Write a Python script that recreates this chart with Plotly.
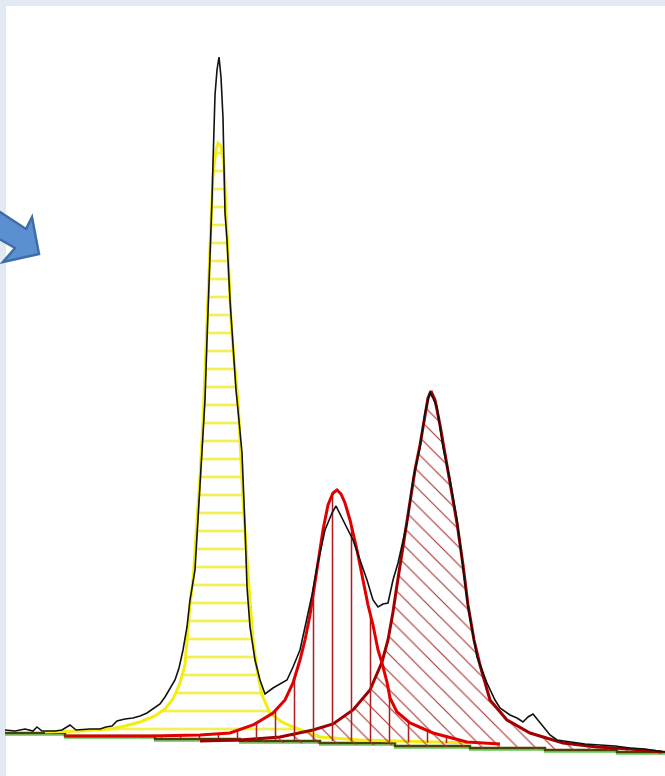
import plotly.graph_objects as go

# ---- data (channel, intensity) ----
spec_x = [5, 15, 25, 33, 37, 42, 55, 62, 70, 76, 90, 100, 106, 112, 117, 125, 133, 140, 147, 153,
          160, 165, 170, 175, 179, 183, 187, 190, 195, 198, 200, 202, 205, 207, 209, 211, 212, 213,
          215, 217, 219, 221, 223, 225, 227, 230, 233, 236, 238, 242, 245, 247, 250, 255, 260, 265,
          273, 287, 293, 300, 307, 312, 317, 325, 332, 336, 343, 353, 360, 367, 373, 378, 383, 388,
          393, 398, 407, 413, 420, 425, 430, 437, 443, 450, 457, 463, 468, 477, 487, 495, 500, 510,
          517, 523, 528, 533, 538, 543, 550, 557, 570, 585, 600, 615, 630, 645, 665]
spec_y = [46, 45, 47, 45, 49, 45, 45, 46, 51, 46, 47, 47, 49, 50, 55, 57, 58, 60, 63, 67,
          72, 79, 87, 96, 108, 126, 149, 176, 206, 259, 299, 329, 376, 436, 486, 536, 576, 613,
          681, 706, 719, 699, 658, 563, 536, 476, 426, 386, 366, 323, 249, 189, 149, 116, 96, 82,
          88, 96, 109, 126, 158, 181, 209, 246, 263, 270, 256, 236, 216, 196, 176, 169, 172, 173,
          196, 213, 253, 296, 329, 363, 384, 369, 329, 296, 256, 209, 169, 119, 93, 76, 68, 61,
          58, 54, 59, 62, 56, 49, 41, 36, 34, 32, 31, 30, 28, 27, 24]

peak1_x = [45, 80, 110, 125, 140, 155, 165, 173, 180, 185, 187, 190, 193, 197, 200, 203, 205, 207,
           209, 211, 213, 216, 218, 221, 224, 226, 228, 231, 234, 238, 240, 243, 247, 250, 253, 257,
           262, 270, 282, 293, 320, 360, 420, 470]
peak1_y = [44, 45, 47, 50, 54, 60, 67, 77, 93, 111, 136, 171, 196, 256, 299, 356, 406, 456,
           516, 561, 601, 626, 633, 630, 611, 566, 516, 456, 416, 376, 336, 276, 216, 176, 136, 106,
           81, 63, 54, 49, 39, 36, 34, 33]

peak2_x = [65, 150, 200, 230, 253, 273, 285, 293, 300, 305, 310, 314, 317, 323, 328, 333, 337, 341,
           345, 350, 357, 363, 368, 373, 378, 382, 387, 390, 397, 410, 433, 467, 500]
peak2_y = [40, 40, 41, 43, 51, 63, 76, 93, 116, 136, 161, 186, 206, 246, 271, 283, 286, 282,
           273, 256, 226, 196, 171, 151, 126, 113, 94, 78, 64, 53, 43, 34, 32]

peak3_x = [200, 240, 280, 313, 333, 353, 370, 382, 388, 393, 397, 400, 405, 410, 415, 420, 425, 428,
           431, 435, 440, 445, 450, 457, 463, 468, 474, 480, 490, 507, 530, 563, 597, 630, 662]
peak3_y = [35, 36, 39, 46, 52, 66, 86, 114, 136, 164, 191, 211, 241, 276, 306, 331, 363, 378,
           385, 376, 351, 321, 291, 253, 211, 171, 136, 111, 76, 56, 43, 33, 29, 27, 24]

base_x = [5, 65, 155, 240, 320, 395, 470, 545, 617, 665]
base_y = [43, 40, 37, 35, 33, 30, 28, 26, 24, 23]

W, H = 665, 776

fig = go.Figure()

# baseline (green under, dark olive over)
fig.add_trace(go.Scatter(x=base_x, y=[v - 2 for v in base_y], mode="lines", line_shape="hv",
                         line=dict(color="#86d67e", width=2), hoverinfo="skip"))
fig.add_trace(go.Scatter(x=base_x, y=base_y, mode="lines", line_shape="hv",
                         line=dict(color="#4a4200", width=2.5), hoverinfo="skip"))

# yellow component, horizontal hatch
fig.add_trace(go.Scatter(x=peak1_x, y=peak1_y, mode="lines", fill="toself",
                         fillcolor="rgba(255,255,255,0)",
                         fillpattern=dict(shape="-", size=18, solidity=0.15, fgopacity=1,
                                          fgcolor="#f3ef55", bgcolor="rgba(255,255,255,0)"),
                         line=dict(color="#f2ee10", width=3), hoverinfo="skip"))

# third component, diagonal hatch
fig.add_trace(go.Scatter(x=peak3_x, y=peak3_y, mode="lines", fill="toself",
                         fillcolor="rgba(255,255,255,0)",
                         fillpattern=dict(shape="\\", size=12.5, solidity=0.09, fgopacity=1,
                                          fgcolor="#a83232", bgcolor="rgba(255,255,255,0)"),
                         line=dict(color="#a00000", width=3), hoverinfo="skip"))

# second component, vertical hatch
fig.add_trace(go.Scatter(x=peak2_x, y=peak2_y, mode="lines", fill="toself",
                         fillcolor="rgba(255,255,255,0)",
                         fillpattern=dict(shape="|", size=19, solidity=0.08, fgopacity=1,
                                          fgcolor="#b01c1c", bgcolor="rgba(255,255,255,0)"),
                         line=dict(color="#e00000", width=3), hoverinfo="skip"))

# measured spectrum
fig.add_trace(go.Scatter(x=spec_x, y=spec_y, mode="lines",
                         line=dict(color="#111111", width=1.6), hoverinfo="skip"))

# page frame strips and the blue arrow
shapes = [
    dict(type="rect", xref="paper", yref="paper", x0=0, x1=6 / W, y0=0, y1=1,
         fillcolor="#e1e9f3", line=dict(width=0), layer="below"),
    dict(type="rect", xref="paper", yref="paper", x0=0, x1=1, y0=1 - 6 / H, y1=1,
         fillcolor="#e1e9f3", line=dict(width=0), layer="below"),
]
arrow_px = [(-6, 208), (26, 229), (32, 217), (39, 254), (3, 262), (15, 248), (-6, 236)]
path = "M " + " L ".join(f"{px / W:.5f},{1 - py / H:.5f}" for px, py in arrow_px) + " Z"
shapes.append(dict(type="path", xref="paper", yref="paper", path=path,
                   fillcolor="#5b8fd2", line=dict(color="#3f6ea6", width=2.5), layer="above"))

fig.update_layout(
    width=W, height=H,
    margin=dict(l=0, r=0, t=0, b=0),
    paper_bgcolor="white", plot_bgcolor="white",
    showlegend=False,
    xaxis=dict(range=[0, W], visible=False, fixedrange=True),
    yaxis=dict(range=[0, H], visible=False, fixedrange=True),
    shapes=shapes,
)

fig.write_html("out.html", config={"displayModeBar": False},
               post_script="document.body.style.margin='0';document.body.style.overflow='hidden';")
